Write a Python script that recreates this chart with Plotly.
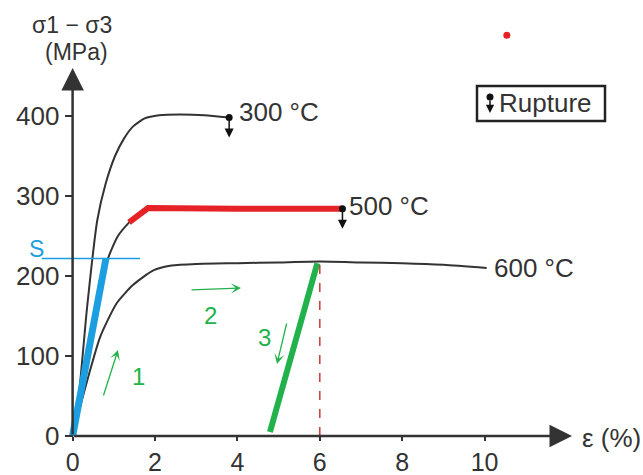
import plotly.graph_objects as go

# ---- data (strain %, stress MPa) ----
x300 = [0, 0.15, 0.35, 0.6, 0.8, 1.03, 1.25, 1.47, 1.75, 2.1, 2.6, 3.2, 3.8]
y300 = [0, 50, 160, 270, 315, 350, 372, 387, 397, 401, 402, 401, 398]

x500 = [0, 0.3, 0.6, 0.86, 1.1, 1.39, 1.6, 1.85, 3.0, 4.5, 6.55]
y500 = [0, 80, 165, 222, 250, 268, 278, 284, 285, 285, 284]

x600 = [0, 0.15, 0.38, 0.67, 1.07, 1.47, 1.96, 2.4, 3, 4, 5, 6, 7, 8, 9, 10.05]
y600 = [0, 30, 74, 124, 166, 189, 207, 213, 215, 216, 217, 218, 217, 216, 214, 210]

red_x = [1.37, 1.83, 4.0, 6.55]
red_y = [267, 285, 284, 284]

blue_x = [0, 0.81]
blue_y = [0, 222]

green_x = [4.79, 5.94]
green_y = [5, 216]

s_level = 222
s_x = [-0.75, 1.64]

dash_x = [6, 6]
dash_y = [0, 218]

rupture_x = [3.8, 6.55]
rupture_y = [398, 284]

reddot_x = [10.54]
reddot_y = [501]

xticks = [0, 2, 4, 6, 8, 10]
yticks = [0, 100, 200, 300, 400]

# ---- pixel mapping for layout decoration ----
W, H = 643, 475
X0PX, XSC = 72.6, 41.2
Y0PX, YSC = 436.0, 0.8
xr = [(0 - X0PX) / XSC, (W - X0PX) / XSC]
yr = [(Y0PX - H) / YSC, Y0PX / YSC]
def px2x(p): return (p - X0PX) / XSC
def px2y(p): return (Y0PX - p) / YSC

BLACK = "#333333"
BLUE = "#1c9fe0"
GREEN = "#22b24c"
RED = "#e52226"
FONT = "Liberation Sans, Arial, sans-serif"
FS = 26

fig = go.Figure()
for xs, ys in [(x300, y300), (x500, y500), (x600, y600)]:
    fig.add_trace(go.Scatter(x=xs, y=ys, mode="lines", line=dict(color=BLACK, width=2, shape="spline", smoothing=0.6),
                             hoverinfo="skip", showlegend=False))
fig.add_trace(go.Scatter(x=red_x, y=red_y, mode="lines", line=dict(color=RED, width=6), showlegend=False))
fig.add_trace(go.Scatter(x=blue_x, y=blue_y, mode="lines", line=dict(color=BLUE, width=7), showlegend=False))
fig.add_trace(go.Scatter(x=green_x, y=green_y, mode="lines", line=dict(color=GREEN, width=6), showlegend=False))
fig.add_trace(go.Scatter(x=s_x, y=[s_level, s_level], mode="lines", line=dict(color=BLUE, width=1.5), showlegend=False))
fig.add_trace(go.Scatter(x=dash_x, y=dash_y, mode="lines", line=dict(color="#c83a3a", width=1.5, dash="dash"), showlegend=False))
fig.add_trace(go.Scatter(x=rupture_x, y=rupture_y, mode="markers", marker=dict(color="#111", size=7), showlegend=False))
fig.add_trace(go.Scatter(x=reddot_x, y=reddot_y, mode="markers", marker=dict(color=RED, size=7), showlegend=False))

ann = []
# axes with arrows
ann.append(dict(x=px2x(572), y=0, ax=0, ay=0, axref="x", ayref="y", xref="x", yref="y", text="",
                showarrow=True, arrowhead=2, arrowsize=1.8, arrowwidth=2.5, arrowcolor=BLACK))
ann.append(dict(x=0, y=px2y(68), ax=0, ay=0, axref="x", ayref="y", xref="x", yref="y", text="",
                showarrow=True, arrowhead=2, arrowsize=1.8, arrowwidth=2.5, arrowcolor=BLACK))
# rupture arrows
for rx, ry in zip(rupture_x, rupture_y):
    ann.append(dict(x=rx, y=ry - 25, ax=0, ay=-20, text="", showarrow=True, arrowhead=2, arrowsize=1.2,
                    arrowwidth=1.5, arrowcolor="#111"))
# curve labels
lbl = dict(showarrow=False, xanchor="left", yanchor="middle", font=dict(family=FONT, size=FS, color=BLACK))
ann.append(dict(x=px2x(237), y=px2y(112), text="300 °C", **lbl))
ann.append(dict(x=px2x(347), y=px2y(206), text="500 °C", **lbl))
ann.append(dict(x=px2x(492), y=px2y(268), text="600 °C", **lbl))
# axis titles
ann.append(dict(x=px2x(72), y=px2y(25), text="σ1 − σ3", showarrow=False, yanchor="middle",
                font=dict(family=FONT, size=23, color=BLACK)))
ann.append(dict(x=px2x(76), y=px2y(52), text="(MPa)", showarrow=False, yanchor="middle",
                font=dict(family=FONT, size=23, color=BLACK)))
ann.append(dict(x=px2x(580), y=px2y(438), text="ε (%)", showarrow=False, xanchor="left", yanchor="middle",
                font=dict(family=FONT, size=FS, color=BLACK)))
# S label
ann.append(dict(x=px2x(36), y=px2y(249), text="S", showarrow=False, yanchor="middle",
                font=dict(family=FONT, size=23, color=BLUE)))
# green notes
gfont = dict(family=FONT, size=24, color=GREEN)
ann.append(dict(x=px2x(138), y=px2y(376), text="1", showarrow=False, yanchor="middle", font=gfont))
ann.append(dict(x=px2x(210), y=px2y(315), text="2", showarrow=False, yanchor="middle", font=gfont))
ann.append(dict(x=px2x(264), y=px2y(337), text="3", showarrow=False, yanchor="middle", font=gfont))
for (x1, y1, x2, y2) in [(103, 397, 118, 350), (190, 290, 241, 288), (287, 322, 277, 364)]:
    ann.append(dict(x=px2x(x2), y=px2y(y2), ax=px2x(x1), ay=px2y(y1), axref="x", ayref="y", text="",
                    showarrow=True, arrowhead=3, arrowsize=1.3, arrowwidth=1.3, arrowcolor=GREEN))
# legend box
ann.append(dict(x=497 / W, y=1 - 103 / H, xref="paper", yref="paper", text="Rupture", showarrow=False,
                xanchor="left", yanchor="middle", font=dict(family=FONT, size=FS, color=BLACK)))
ann.append(dict(x=490 / W, y=1 - 113 / H, xref="paper", yref="paper", ax=0, ay=-14, text="", showarrow=True,
                arrowhead=2, arrowsize=1.1, arrowwidth=1.5, arrowcolor="#111"))

shapes = [
    dict(type="rect", xref="paper", yref="paper", x0=477 / W, x1=605 / W, y0=1 - 121 / H, y1=1 - 86 / H,
         line=dict(color="#222", width=2.5)),
    dict(type="circle", xref="paper", yref="paper", x0=486.5 / W, x1=493.5 / W, y0=1 - 100.5 / H, y1=1 - 93.5 / H,
         fillcolor="#111", line=dict(width=0)),
]

fig.update_layout(
    width=W, height=H, margin=dict(l=0, r=0, t=0, b=0, autoexpand=False),
    plot_bgcolor="white", paper_bgcolor="white",
    annotations=ann, shapes=shapes,
    xaxis=dict(range=xr, domain=[0, 1], anchor="free", position=(H - Y0PX) / H, showgrid=False, zeroline=False,
               showline=False, tickvals=xticks, ticks="outside", ticklen=4, tickwidth=2, tickcolor=BLACK,
               automargin=False, tickfont=dict(family=FONT, size=25, color=BLACK)),
    yaxis=dict(range=yr, domain=[0, 1], anchor="free", position=X0PX / W, showgrid=False, zeroline=False,
               showline=False, tickvals=yticks, ticks="outside", ticklen=8, tickwidth=2, tickcolor=BLACK,
               automargin=False, tickfont=dict(family=FONT, size=FS, color=BLACK)),
)
fig.write_html("out.html", post_script="document.body.style.margin='0';", config={"displayModeBar": False})
